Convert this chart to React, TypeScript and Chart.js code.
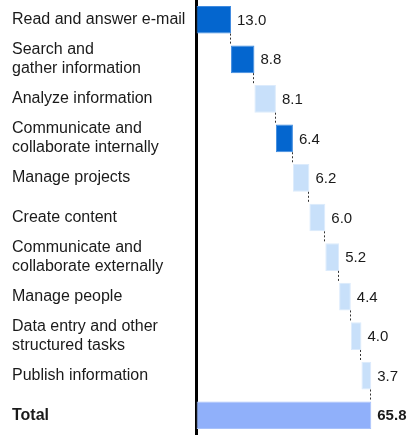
import React, { useEffect, useRef } from "react";
import { Chart, registerables } from "chart.js";

Chart.register(...registerables);

const categories: (string | string[])[] = [
  "Read and answer e-mail",
  ["Search and", "gather information"],
  "Analyze information",
  ["Communicate and", "collaborate internally"],
  "Manage projects",
  "Create content",
  ["Communicate and", "collaborate externally"],
  "Manage people",
  ["Data entry and other", "structured tasks"],
  "Publish information",
  "Total",
];

const values: number[] = [13.0, 8.8, 8.1, 6.4, 6.2, 6.0, 5.2, 4.4, 4.0, 3.7];
const totalValue = 65.8;
const highlighted: boolean[] = [true, true, false, true, false, false, false, false, false, false];

const DARK = "#0466CF";
const DARK_BORDER = "#3F8BE0";
const LIGHT = "#C8E0FA";
const LIGHT_BORDER = "#DCEBFC";
const TOTAL = "#90B0FA";
const TOTAL_BORDER = "#A8C2FB";

export default function App() {
  const ref = useRef<HTMLCanvasElement | null>(null);

  useEffect(() => {
    document.body.style.margin = "0";
    const canvas = ref.current;
    if (!canvas) return;

    const ranges: [number, number][] = [];
    let acc = 0;
    values.forEach((v) => {
      ranges.push([acc, +(acc + v).toFixed(1)]);
      acc = +(acc + v).toFixed(1);
    });
    ranges.push([0, totalValue]);

    const bg = [...highlighted.map((h) => (h ? DARK : LIGHT)), TOTAL];
    const bd = [...highlighted.map((h) => (h ? DARK_BORDER : LIGHT_BORDER)), TOTAL_BORDER];
    const labelsText = [...values.map((v) => v.toFixed(1)), totalValue.toFixed(1)];

    const overlay = {
      id: "overlay",
      afterDatasetsDraw(chart: any) {
        const ctx = chart.ctx;
        const meta = chart.getDatasetMeta(0);
        const els = meta.data;
        ctx.save();
        ctx.strokeStyle = "#333";
        ctx.lineWidth = 1;
        ctx.setLineDash([2, 2]);
        for (let i = 0; i < els.length - 1; i++) {
          const a = els[i];
          const b = els[i + 1];
          const x = Math.round(Math.max(a.x, a.base)) - 0.5;
          ctx.beginPath();
          ctx.moveTo(x, a.y + a.height / 2);
          ctx.lineTo(x, b.y - b.height / 2);
          ctx.stroke();
        }
        ctx.setLineDash([]);
        ctx.fillStyle = "#1a1a1a";
        ctx.textBaseline = "middle";
        ctx.textAlign = "left";
        els.forEach((el: any, i: number) => {
          const bold = i === els.length - 1;
          ctx.font = `${bold ? "bold " : ""}15px "Liberation Sans", Arial, sans-serif`;
          ctx.fillText(labelsText[i], Math.max(el.x, el.base) + 6, el.y + 1);
        });
        ctx.restore();
      },
    };

    const chart = new Chart(canvas, {
      type: "bar",
      data: {
        labels: categories,
        datasets: [
          {
            data: ranges as any,
            backgroundColor: bg,
            borderColor: bd,
            borderWidth: 1,
            borderSkipped: false,
            categoryPercentage: 0.7,
            barPercentage: 1,
          },
        ],
      },
      options: {
        indexAxis: "y",
        responsive: false,
        animation: false,
        layout: { padding: { left: 12, right: 0, top: 0, bottom: 0 } },
        plugins: {
          legend: { display: false },
          tooltip: { enabled: false },
        },
        scales: {
          x: {
            display: false,
            min: 0,
            max: 80,
          },
          y: {
            grid: { display: true, drawOnChartArea: false, drawTicks: false },
            border: { display: true, color: "#000", width: 3 },
            afterFit: (scale: any) => {
              scale.width = 184.5;
              scale.paddingTop = 0;
              scale.paddingBottom = 0;
            },
            ticks: {
              autoSkip: false,
              crossAlign: "far",
              padding: 0,
              color: "#1a1a1a",
              font: (ctx: any) => ({
                family: '"Liberation Sans", Arial, sans-serif',
                size: 16,
                weight: ctx.index === categories.length - 1 ? "bold" : "normal",
                lineHeight: 1.2,
              }),
            },
          },
        },
      },
      plugins: [overlay],
    });

    return () => chart.destroy();
  }, []);

  return <canvas ref={ref} width={409} height={435} style={{ display: "block" }} />;
}
